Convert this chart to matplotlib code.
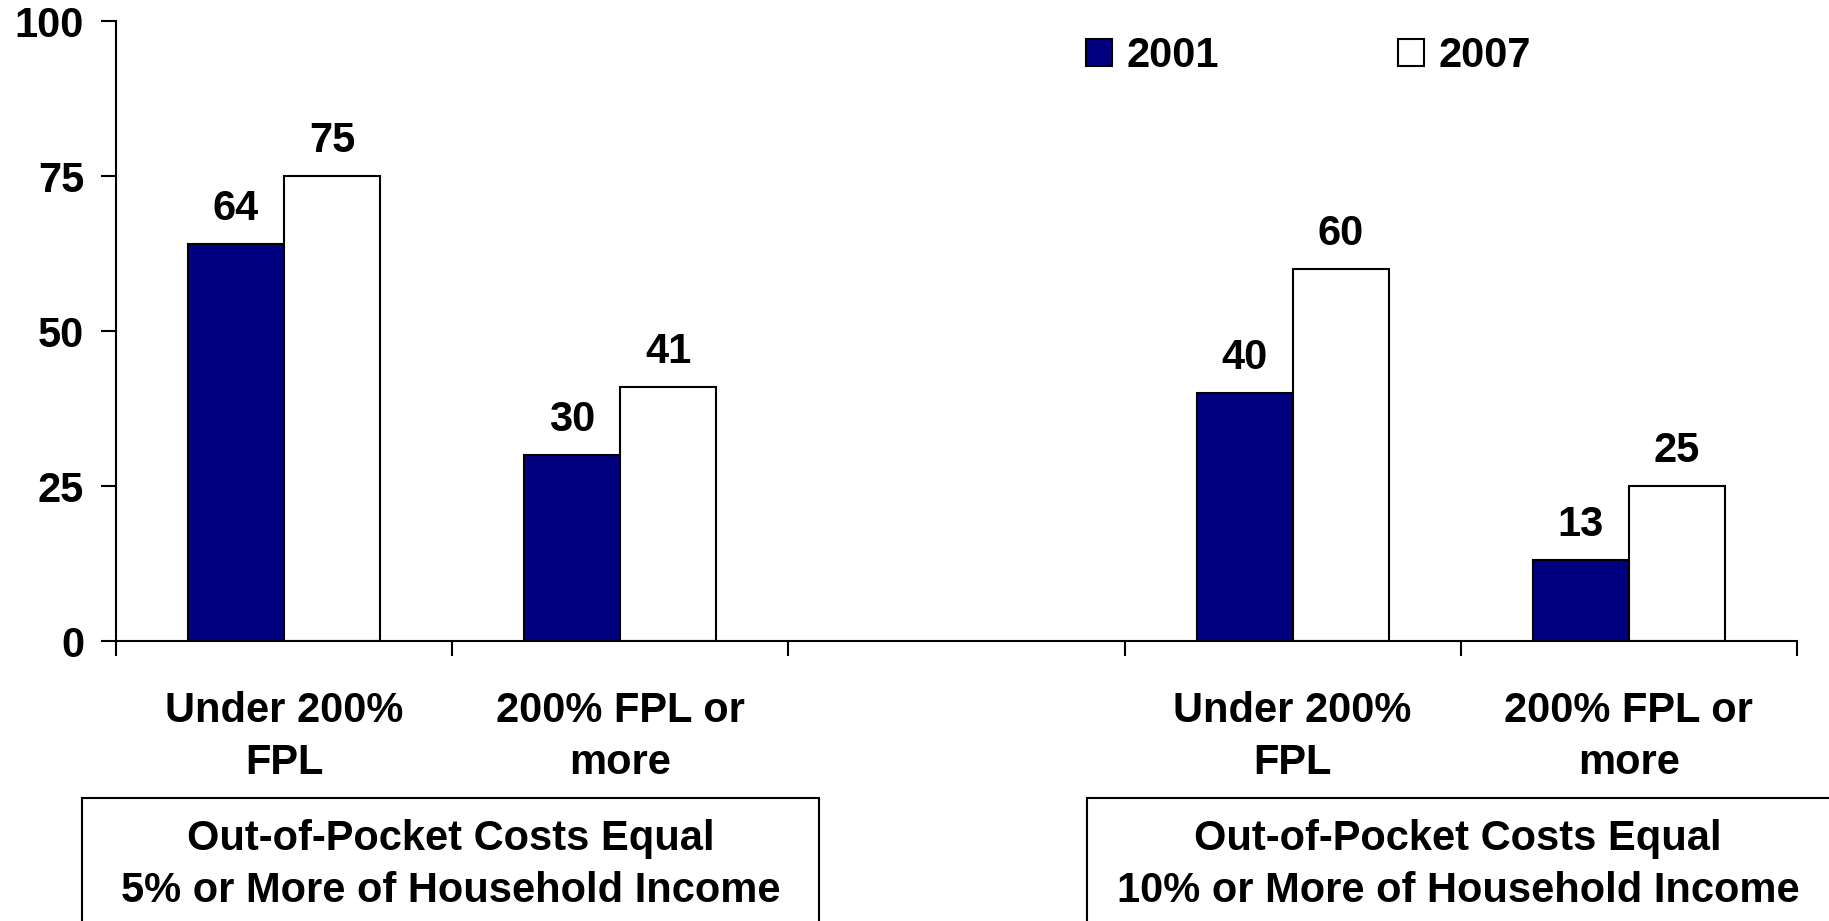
import matplotlib
matplotlib.use("Agg")
from matplotlib import pyplot as plt
from matplotlib.patches import Rectangle

plt.rcParams['font.family'] = ['Liberation Sans', 'DejaVu Sans']
plt.rcParams['font.weight'] = 'bold'

categories = ["Under 200%\nFPL", "200% FPL or\nmore", "", "Under 200%\nFPL", "200% FPL or\nmore"]
positions = [0, 1, 3, 4]
vals_2001 = [64, 30, 40, 13]
vals_2007 = [75, 41, 60, 25]
series_names = ["2001", "2007"]
group_titles = ["Out-of-Pocket Costs Equal\n5% or More of Household Income",
                "Out-of-Pocket Costs Equal\n10% or More of Household Income"]
yticks = [0, 25, 50, 75, 100]

fs = 30
navy = "#000080"

fig = plt.figure(figsize=(18.29, 9.21), dpi=100)
ax = fig.add_axes([0.0634, 0.304, 0.9191, 0.673])

w = 0.286
b1 = ax.bar([p - w / 2 for p in positions], vals_2001, w, color=navy,
            edgecolor="black", linewidth=1.5, label=series_names[0])
b2 = ax.bar([p + w / 2 for p in positions], vals_2007, w, color="white",
            edgecolor="black", linewidth=1.5, label=series_names[1])

for bars, vals in [(b1, vals_2001), (b2, vals_2007)]:
    for r, v in zip(bars, vals):
        ax.annotate(str(v), (r.get_x() + r.get_width() / 2, v),
                    xytext=(0, 11), textcoords="offset points",
                    ha="center", va="bottom", fontsize=fs, fontweight="bold")

ax.set_xlim(-0.5, 4.5)
ax.set_ylim(0, 100)
ax.set_yticks(yticks)
ax.set_xticks([i - 0.5 for i in range(6)])
ax.set_xticklabels([])
ax.set_xticks(range(5), minor=True)
ax.set_xticklabels(categories, minor=True, fontsize=fs, fontweight="bold",
                   linespacing=1.4)
ax.tick_params(axis="x", which="minor", length=0, pad=36)
ax.tick_params(axis="both", which="major", direction="out", length=11,
               width=1.5, labelsize=fs, pad=12)
for s in ["top", "right"]:
    ax.spines[s].set_visible(False)
for s in ["left", "bottom"]:
    ax.spines[s].set_linewidth(1.5)

ax.legend(loc="upper left", bbox_to_anchor=(0.567, 1.003), ncol=2, frameon=False,
          handlelength=0.62, handleheight=0.62, handletextpad=0.35,
          columnspacing=4.3, borderaxespad=0, prop={"weight": "bold", "size": fs})

# group boxes under the categories
for (x0, x1), title in zip([(82, 819), (1087, 1835)], group_titles):
    fig.patches.append(Rectangle((x0 / 1829, -0.05), (x1 - x0) / 1829,
                                 (921 - 798) / 921 + 0.05,
                                 transform=fig.transFigure, fill=False,
                                 edgecolor="black", linewidth=1.5))
    fig.text((x0 + min(x1, 1829)) / 2 / 1829, (921 - 865) / 921, title,
             ha="center", va="center", fontsize=fs, fontweight="bold",
             linespacing=1.4)

fig.savefig("out.png", dpi=100)
